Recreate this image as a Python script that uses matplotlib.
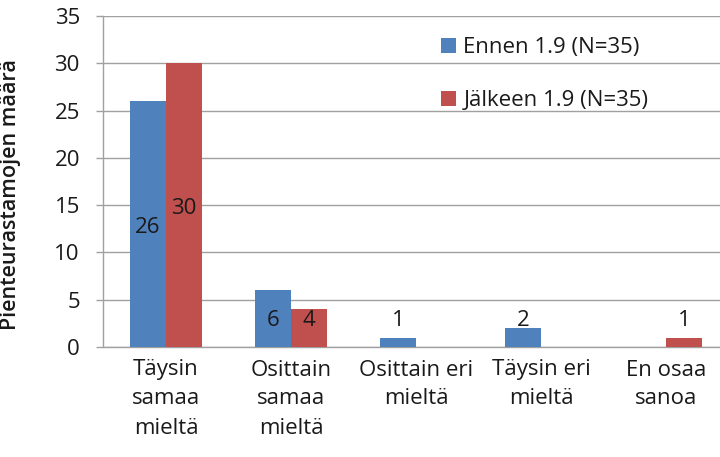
import numpy as np
import matplotlib
matplotlib.use("Agg")
import matplotlib.pyplot as plt

# Data
categories = [
    "Täysin\nsamaa\nmieltä",
    "Osittain\nsamaa\nmieltä",
    "Osittain eri\nmieltä",
    "Täysin eri\nmieltä",
    "En osaa\nsanoa",
]
before = [26, 6, 1, 2, 0]
after = [30, 4, 0, 0, 1]
series_labels = ["Ennen 1.9 (N=35)", "Jälkeen 1.9 (N=35)"]
yticks = [0, 5, 10, 15, 20, 25, 30, 35]

blue = "#4F81BD"
red = "#C0504D"
text_color = "#1a1a1a"
grid_color = "#A0A0A0"
fs = 16

plt.rcParams["font.family"] = ["Open Sans", "DejaVu Sans"]

fig = plt.figure(figsize=(7.2, 4.57), dpi=100)
# plot area runs slightly past the right edge, as in the cropped original
ax = fig.add_axes([103.5 / 720, 1 - 347 / 457, 625 / 720, 331 / 457])

x = np.arange(len(categories))
w = 0.288

bars_b = ax.bar(x - w / 2, before, w, color=blue, label=series_labels[0], zorder=3)
bars_a = ax.bar(x + w / 2, after, w, color=red, label=series_labels[1], zorder=3)

# value labels, centred in the bar (small bars get lifted like Excel does)
for bars, vals in ((bars_b, before), (bars_a, after)):
    for b, v in zip(bars, vals):
        if v == 0:
            continue
        ax.text(b.get_x() + b.get_width() / 2, max(v / 2 - 0.4, 2.8), str(v),
                ha="center", va="center", fontsize=fs, color=text_color, zorder=4)

ax.set_xlim(-0.5, len(categories) - 0.5)
ax.set_ylim(0, 35)
ax.set_yticks(yticks)
ax.set_xticks(x)
ax.set_xticklabels(categories, fontsize=fs, color=text_color, linespacing=1.5)
ax.tick_params(axis="x", length=0, pad=9)
ax.tick_params(axis="y", length=5, width=1, color=grid_color, pad=12,
               labelsize=fs, labelcolor=text_color)

ax.grid(axis="y", color=grid_color, linewidth=1, zorder=0)
ax.set_axisbelow(True)
for side in ("top", "right"):
    ax.spines[side].set_visible(False)
for side in ("left", "bottom"):
    ax.spines[side].set_color(grid_color)
    ax.spines[side].set_linewidth(1)

ax.set_ylabel("Pienteurastamojen määrä", fontsize=15.5, fontweight="semibold",
              color=text_color)
ax.yaxis.set_label_coords(-0.132, 0.46)

ax.legend(loc="upper left", bbox_to_anchor=(430 / 720, 1 - 26 / 457),
          bbox_transform=fig.transFigure, frameon=False, fontsize=fs,
          handlelength=0.65, handleheight=0.65, handletextpad=0.35,
          labelspacing=1.45, borderpad=0, labelcolor=text_color)

fig.savefig("out.png", dpi=100)
